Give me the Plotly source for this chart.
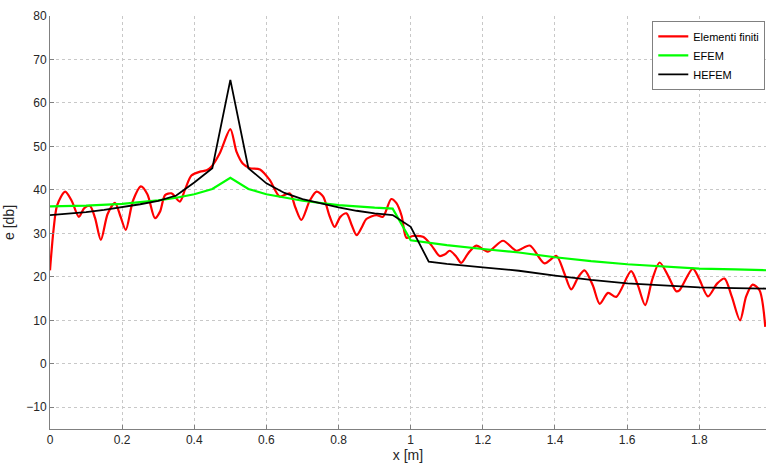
import plotly.graph_objects as go

# Finite-element reference solution
fem_x = [0, 0.01, 0.02, 0.042, 0.06, 0.08, 0.095, 0.111, 0.125, 0.141, 0.16, 0.18, 0.195,
         0.21, 0.23, 0.252, 0.27, 0.291, 0.305, 0.319, 0.337, 0.36, 0.374, 0.392, 0.416,
         0.434, 0.448, 0.471, 0.5, 0.517, 0.535, 0.554, 0.582, 0.609, 0.637, 0.665, 0.68,
         0.697, 0.72, 0.739, 0.757, 0.775, 0.789, 0.805, 0.822, 0.836, 0.85, 0.865, 0.877,
         0.905, 0.923, 0.946, 0.96, 0.975, 0.988, 1.006, 1.034, 1.057, 1.08, 1.095, 1.108,
         1.125, 1.14, 1.16, 1.182, 1.214, 1.256, 1.293, 1.33, 1.371, 1.404, 1.425, 1.445,
         1.465, 1.482, 1.505, 1.524, 1.547, 1.57, 1.611, 1.63, 1.65, 1.67, 1.69, 1.715,
         1.736, 1.745, 1.782, 1.8, 1.824, 1.85, 1.87, 1.89, 1.913, 1.93, 1.948, 1.967, 1.983]
fem_e = [21.5, 31, 36.5, 39.6, 37.5, 33.8, 35.8, 36.3, 33.5, 28.5, 34.5, 37.0, 34.0,
         30.8, 37.5, 40.8, 39.0, 33.5, 35.0, 38.8, 39.2, 37.3, 40.0, 43.3, 44.2,
         44.5, 45.4, 48.5, 54.0, 48.8, 46.0, 45.0, 44.7, 42.3, 38.5, 39.2, 36.0,
         33.1, 37.5, 39.6, 38.5, 34.0, 31.5, 33.8, 34.6, 32.0, 29.6, 31.5, 33.3,
         34.2, 33.8, 37.9, 37.0, 34.0, 29.0, 29.4, 29.2, 27.3, 24.8, 25.2, 26.0,
         24.8, 23.2, 25.5, 27.2, 25.8, 28.3, 26.0, 27.2, 23.1, 24.8, 21.0, 17.1,
         20.0, 21.5, 18.0, 13.8, 16.3, 15.4, 21.3, 18.0, 13.5, 19.5, 23.3, 20.0,
         16.7, 16.9, 21.9, 19.5, 15.5, 18.5, 19.6, 15.5, 10.0, 15.5, 18.2, 16.9, 8.5]

# EFEM solution
efem_x = [0, 0.1, 0.2, 0.3, 0.35, 0.4, 0.45, 0.5, 0.55, 0.6, 0.7, 0.8, 0.9, 0.95,
          1.0, 1.05, 1.1, 1.2, 1.3, 1.4, 1.5, 1.6, 1.7, 1.8, 1.9, 1.99]
efem_e = [36.2, 36.4, 36.8, 37.6, 38.2, 39.0, 40.2, 42.8, 40.2, 39.0, 37.5, 36.5, 35.9, 35.7,
          28.4, 27.8, 27.3, 26.4, 25.6, 24.5, 23.6, 22.9, 22.4, 21.9, 21.7, 21.5]

# HEFEM solution
hefem_x = [0, 0.05, 0.1, 0.15, 0.2, 0.25, 0.3, 0.35, 0.4, 0.45, 0.5, 0.55, 0.6, 0.65,
           0.7, 0.75, 0.8, 0.85, 0.9, 0.95, 1.0, 1.05, 1.1, 1.2, 1.3, 1.4, 1.5, 1.6,
           1.7, 1.8, 1.9, 1.99]
hefem_e = [34.2, 34.5, 34.9, 35.4, 36.0, 36.7, 37.5, 38.7, 41.7, 45.0, 65.3, 45.0, 41.5, 39.3,
           37.9, 36.9, 36.0, 35.2, 34.6, 34.2, 31.5, 23.5, 23.0, 22.2, 21.4, 20.3, 19.3, 18.5,
           18.0, 17.6, 17.4, 17.3]

x_ticks = [0, 0.2, 0.4, 0.6, 0.8, 1, 1.2, 1.4, 1.6, 1.8]
x_tick_labels = ["0", "0.2", "0.4", "0.6", "0.8", "1", "1.2", "1.4", "1.6", "1.8"]
y_ticks = [-10, 0, 10, 20, 30, 40, 50, 60, 70, 80]

fig = go.Figure()
fig.add_trace(go.Scatter(x=fem_x, y=fem_e, mode="lines", name="Elementi finiti",
                         line=dict(color="#ff0000", width=2.2, shape="spline", smoothing=0.8)))
fig.add_trace(go.Scatter(x=efem_x, y=efem_e, mode="lines", name="EFEM",
                         line=dict(color="#00ff00", width=2.2)))
fig.add_trace(go.Scatter(x=hefem_x, y=hefem_e, mode="lines", name="HEFEM",
                         line=dict(color="#000000", width=1.8)))

axis_common = dict(
    showgrid=True, gridcolor="#c8c8c8", griddash="dot", gridwidth=1,
    showline=True, linecolor="#808080", linewidth=1,
    ticks="inside", ticklen=4, tickcolor="#808080",
    zeroline=False, tickfont=dict(family="Liberation Sans, Arial", size=12, color="#262626"),
)

fig.update_xaxes(range=[0, 1.985], tickvals=x_ticks, ticktext=x_tick_labels,
                 title=dict(text="x [m]", font=dict(family="Liberation Sans, Arial", size=14, color="#262626"),
                            standoff=2),
                 **axis_common)
fig.update_yaxes(range=[-15, 80], tickvals=y_ticks,
                 title=dict(text="e [db]", font=dict(family="Liberation Sans, Arial", size=14, color="#262626"),
                            standoff=8),
                 **axis_common)

fig.update_layout(
    width=766, height=464,
    margin=dict(l=50, r=0, t=16, b=35, autoexpand=False),
    plot_bgcolor="white", paper_bgcolor="white",
    legend=dict(x=0.999, y=0.988, xanchor="right", yanchor="top",
                bgcolor="white", bordercolor="#808080", borderwidth=1,
                font=dict(family="Liberation Sans, Arial", size=11, color="#000000"),
                itemwidth=30, tracegroupgap=0),
    showlegend=True,
)

fig.write_html("out.html")
